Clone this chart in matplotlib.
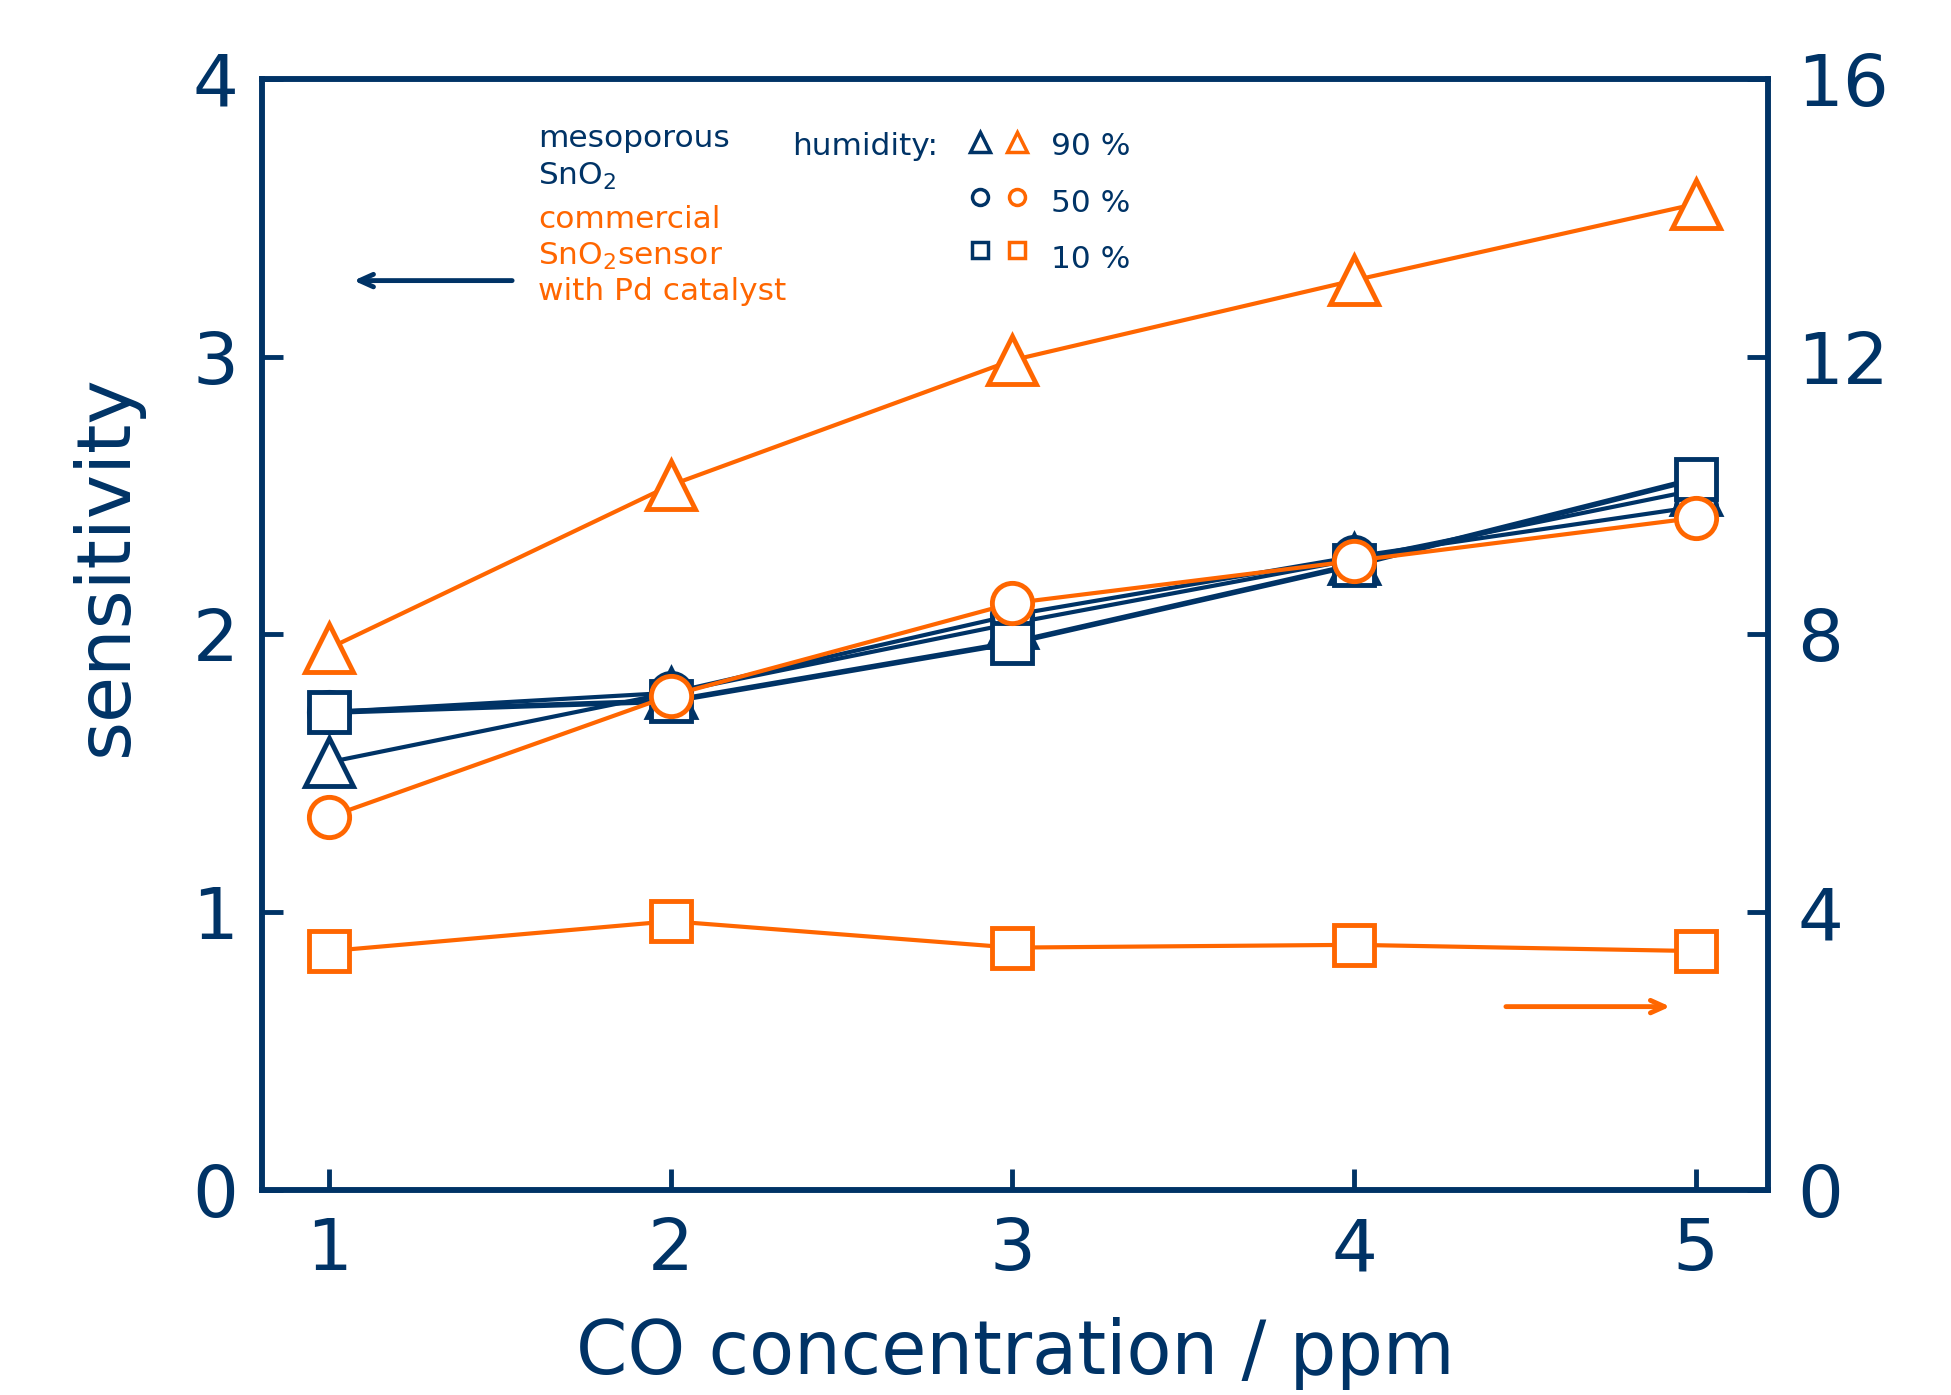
import numpy as np
import matplotlib
matplotlib.use('Agg')
from matplotlib import pyplot as plt

plt.rcParams['font.family'] = ['DejaVu Sans']
plt.rcParams['mathtext.default'] = 'regular'

NAVY = '#003366'
ORANGE = '#ff6600'

# CO concentration (ppm)
co_ppm = [1, 2, 3, 4, 5]

# mesoporous SnO2 -> left axis
meso_90 = [1.54, 1.79, 2.04, 2.27, 2.52]
meso_50 = [1.72, 1.79, 2.07, 2.28, 2.46]
meso_10 = [1.72, 1.76, 1.97, 2.25, 2.56]

# commercial SnO2 sensor with Pd catalyst -> right axis
comm_90 = [7.8, 10.15, 11.95, 13.1, 14.2]
comm_50 = [5.37, 7.12, 8.45, 9.06, 9.68]
comm_10 = [3.44, 3.87, 3.49, 3.53, 3.44]

left_ticks = [0, 1, 2, 3, 4]
right_ticks = [0, 4, 8, 12, 16]
humidity_labels = ['90 %', '50 %', '10 %']
markers = ['^', 'o', 's']

fig = plt.figure(figsize=(19.51, 13.95), dpi=100)
ax = fig.add_axes([0.1343, 0.1470, 0.7719, 0.7964])
ax2 = ax.twinx()

# left axis series (navy)
for vals, m, lw in zip([meso_90, meso_50, meso_10], markers, [3, 3, 4]):
    ms = 34 if m == '^' else 29
    ax.plot(co_ppm, vals, color=NAVY, lw=lw, marker=m, ms=ms,
            mfc='white', mec=NAVY, mew=3.5)

# right axis series (orange)
for vals, m in zip([comm_90, comm_50, comm_10], markers):
    ms = 34 if m == '^' else 29
    ax2.plot(co_ppm, vals, color=ORANGE, lw=3, marker=m, ms=ms,
             mfc='white', mec=ORANGE, mew=3.5)

ax.set_xlim(0.804, 5.211)
ax.set_ylim(0, 4)
ax2.set_ylim(0, 16)
ax.set_xticks(co_ppm)
ax.set_yticks(left_ticks)
ax2.set_yticks(right_ticks)

for a in (ax, ax2):
    for sp in a.spines.values():
        sp.set_color(NAVY)
        sp.set_linewidth(4)
ax.tick_params(axis='both', direction='in', length=15, width=3.5,
               color=NAVY, labelcolor=NAVY, labelsize=52)
ax.tick_params(axis='x', pad=19)
ax.tick_params(axis='y', pad=17)
ax2.tick_params(axis='y', direction='in', length=15, width=3.5,
                color=NAVY, labelcolor=NAVY, labelsize=52, pad=21)

ax.set_xlabel('CO concentration / ppm', fontsize=53, color=NAVY)
ax.xaxis.set_label_coords(0.5, -0.114)
ax.set_ylabel('sensitivity', fontsize=54, color=NAVY)
ax.yaxis.set_label_coords(-0.079, 0.562)

# axis arrows
ax.annotate('', xy=(1.064, 3.274), xytext=(1.544, 3.274),
            arrowprops=dict(arrowstyle='->,head_length=1.0,head_width=0.45',
                            color=NAVY, lw=3.5))
ax.annotate('', xy=(4.933, 0.66), xytext=(4.436, 0.66),
            arrowprops=dict(arrowstyle='->,head_length=1.0,head_width=0.45',
                            color=ORANGE, lw=3.5))

# legend block
tr = ax.transAxes
ax.text(0.1833, 0.9388, 'mesoporous', color=NAVY, fontsize=22.5, transform=tr, va='baseline')
ax.text(0.1833, 0.9046, r'SnO$_2$', color=NAVY, fontsize=22.5, transform=tr, va='baseline')
ax.text(0.1833, 0.8659, 'commercial', color=ORANGE, fontsize=22.5, transform=tr, va='baseline')
ax.text(0.1833, 0.8326, r'SnO$_2$sensor', color=ORANGE, fontsize=22.5, transform=tr, va='baseline')
ax.text(0.1833, 0.8011, 'with Pd catalyst', color=ORANGE, fontsize=22.5, transform=tr, va='baseline')
ax.text(0.352, 0.9316, 'humidity:', color=NAVY, fontsize=22.5, transform=tr, va='baseline')

sym_y = [0.9433, 0.8938, 0.846]
lab_y = [0.9316, 0.880, 0.830]
for m, sy, ly, lab in zip(markers, sym_y, lab_y, humidity_labels):
    ms = 15 if m == '^' else 11.5
    ax.plot([0.4766], [sy], marker=m, ms=ms, mfc='white', mec=NAVY, mew=2.5,
            transform=tr, clip_on=False)
    ax.plot([0.501], [sy], marker=m, ms=ms, mfc='white', mec=ORANGE, mew=2.5,
            transform=tr, clip_on=False)
    ax.text(0.524, ly, lab, color=NAVY, fontsize=22.5, transform=tr, va='baseline')

fig.savefig('out.png', dpi=100)
